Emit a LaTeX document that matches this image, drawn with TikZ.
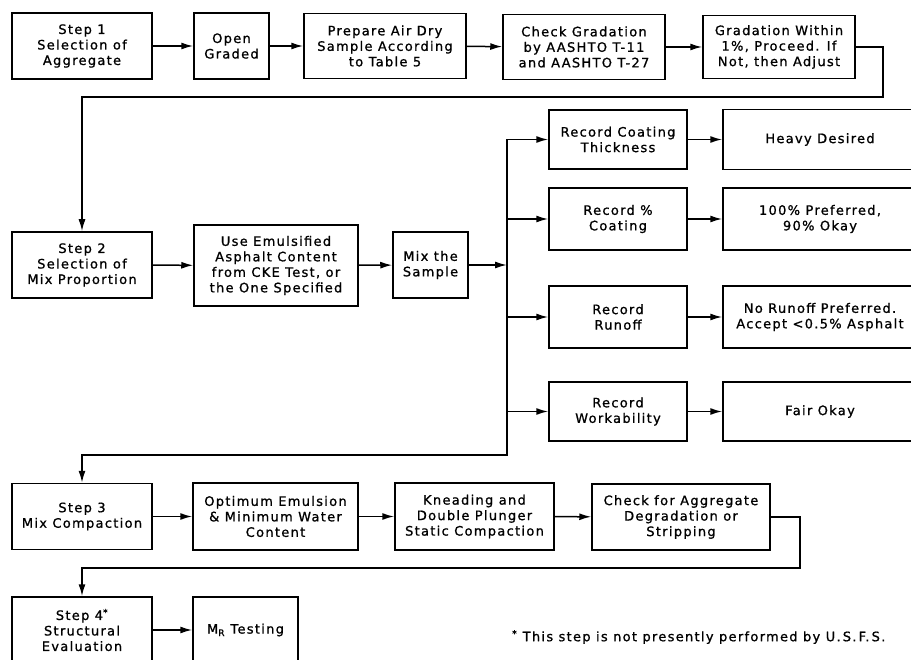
\documentclass[tikz,border=0pt]{standalone}
\usepackage{fontspec}
\setmainfont{DejaVu Sans}[LetterSpace=10, FakeBold=1]
\usepackage{tikz}
\usetikzlibrary{
  calc,%
  arrows.meta,%
  positioning
}
\tikzset{>={Latex[length=12pt, width=7pt]}}
\tikzset{box/.style={draw, line width=1.5pt, align=center, inner sep=0pt,
    font=\fontsize{13}{15.5}\selectfont}}
\tikzset{flow/.style={->, line width=1.5pt}}

\begin{document}
\begin{tikzpicture}[x=1pt, y=-1pt]
  \useasboundingbox (0,0) rectangle (911,660);%
  \clip (0,0) rectangle (911,660);%
  % row 1
  \node[box, minimum width=140, minimum height=66] (step1) at (82,46) {Step 1\\Selection of\\Aggregate};%
  \node[box, minimum width=75, minimum height=66] (open) at (231.5,46) {Open\\Graded};%
  \node[box, minimum width=162, minimum height=65] (prep) at (385,46) {Prepare Air Dry\\Sample According\\to Table 5};%
  \node[box, minimum width=162, minimum height=65] (check) at (584,47) {Check Gradation\\by AASHTO T-11\\and AASHTO T-27};%
  \node[box, minimum width=152, minimum height=63] (grad) at (779,47) {Gradation Within\\1\%, Proceed. If\\Not, then Adjust};%
  \draw[flow] (step1) -- (open);%
  \draw[flow] (open) -- (prep);%
  \draw[flow] (prep) -- (check);%
  \draw[flow] (check) -- (grad);%
  % row 2
  \node[box, minimum width=140, minimum height=66] (step2) at (82,265) {Step 2\\Selection of\\Mix Proportion};%
  \node[box, minimum width=164, minimum height=81] (emul) at (276,265.5) {Use Emulsified\\Asphalt Content\\from CKE Test, or\\the One Specified};%
  \node[box, minimum width=75, minimum height=66] (mix) at (430.5,265) {Mix the\\Sample};%
  \coordinate (r1) at (883,97);%
  \draw[flow] (grad.east) -| (r1) -| (step2.north);%
  \draw[flow] (step2) -- (emul);%
  \draw[flow] (emul) -- (mix);%
  % records
  \node[box, minimum width=138, minimum height=59] (rec1) at (618,139.5) {Record Coating\\Thickness};%
  \node[box, minimum width=138, minimum height=62] (rec2) at (618,219) {Record \%\\Coating};%
  \node[box, minimum width=138, minimum height=62] (rec3) at (618,317) {Record\\Runoff};%
  \node[box, minimum width=138, minimum height=59] (rec4) at (618,411.5) {Record\\Workability};%
  \node[box, minimum width=194, minimum height=60] (res1) at (820,139.5) {Heavy Desired};%
  \node[box, minimum width=194, minimum height=62] (res2) at (820,219) {100\% Preferred,\\90\% Okay};%
  \node[box, minimum width=194, minimum height=62] (res3) at (820,317) {No Runoff Preferred.\\Accept <0.5\% Asphalt};%
  \node[box, minimum width=194, minimum height=59] (res4) at (820,411.5) {Fair Okay};%
  % row 3
  \node[box, minimum width=140, minimum height=66] (step3) at (82,516.5) {Step 3\\Mix Compaction};%
  \node[box, minimum width=165, minimum height=67] (opt) at (275.5,516.5) {Optimum Emulsion\\\& Minimum Water\\Content};%
  \node[box, minimum width=159, minimum height=67] (knead) at (474.5,516.5) {Kneading and\\Double Plunger\\Static Compaction};%
  \node[box, minimum width=178, minimum height=66] (chk) at (681,517) {Check for Aggregate\\Degradation or\\Stripping};%
  \coordinate (r2) at (507,455);%
  \draw[flow] (rec1.west -| r2) -- (r2) -| (step3.north);%
  \draw[flow] (mix) -- (mix -| r2);%
  \foreach \n in {1,2,3,4} {%
    \draw[flow] (rec\n.west -| r2) -- (rec\n);%
    \draw[flow] (rec\n) -- (res\n);%
  }
  \draw[flow] (step3) -- (opt);%
  \draw[flow] (opt) -- (knead);%
  \draw[flow] (knead) -- (chk);%
  % row 4
  \node[box, minimum width=140, minimum height=66] (step4) at (82,630) {Step 4\textsuperscript{*}\\Structural\\Evaluation};%
  \node[box, minimum width=105, minimum height=66] (mr) at (245.5,630) {M\textsubscript{R} Testing};%
  \coordinate (r3) at (800,568);%
  \draw[flow] (chk.east) -| (r3) -| (step4.north);%
  \draw[flow] (step4) -- (mr);%
  \node[anchor=west, inner sep=0pt, font=\fontsize{13}{15.5}\selectfont] (note) at (512,637) {\textsuperscript{*} This step is not presently performed by U.\,S.\,F.\,S.};%
\end{tikzpicture}
\end{document}
